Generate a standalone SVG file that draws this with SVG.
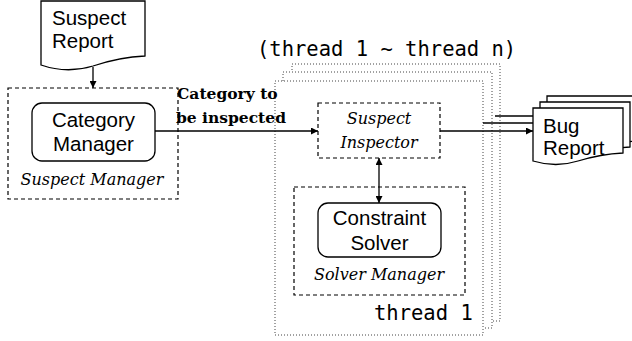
<svg xmlns="http://www.w3.org/2000/svg" width="632" height="341" viewBox="0 0 632 341">
<style>
.sans{font-family:"Liberation Sans",Arial,sans-serif;font-size:20.5px;fill:#000}
.ital{font-family:"DejaVu Serif",serif;font-style:italic;font-size:16px;fill:#000}
.bold{font-family:"DejaVu Serif",serif;font-weight:bold;font-size:15.5px;fill:#000}
.mono{font-family:"DejaVu Sans Mono",monospace;font-size:20.5px;fill:#000}
.solid{fill:#fff;stroke:#000;stroke-width:1.3}
.dash{fill:none;stroke:#000;stroke-width:1.2;stroke-dasharray:4 3}
.dot{fill:#fff;stroke:#444;stroke-width:1;stroke-dasharray:1 2}
.line{stroke:#000;stroke-width:1.3;fill:none}
</style>
<defs>
<marker id="arr" viewBox="0 0 10 10" refX="10" refY="5" markerWidth="8" markerHeight="7" markerUnits="userSpaceOnUse" orient="auto-start-reverse">
<path d="M0,0 L10,5 L0,10 Z" fill="#000"/>
</marker>
</defs>
<rect width="632" height="341" fill="#fff"/>

<g id="threads">
<rect class="dot" x="292" y="64" width="208" height="257"/>
<rect class="dot" x="283" y="72" width="209" height="256"/>
<rect class="dot" x="275" y="81" width="208" height="254"/>
<text class="mono" x="257" y="56">(thread 1 ~ thread n)</text>
<text class="mono" x="374" y="320">thread 1</text>
</g>

<g id="suspect-report">
<path class="solid" d="M41,1 H145 V56 Q120,57 93,66 Q67,74 41,65 Z"/>
<text class="sans" x="52" y="25">Suspect</text>
<text class="sans" x="52" y="48">Report</text>
</g>

<g id="suspect-manager">
<rect class="dash" x="8" y="88" width="170" height="111"/>
<text class="ital" x="92" y="185" text-anchor="middle">Suspect Manager</text>
</g>

<g id="category-manager">
<rect class="solid" x="32" y="103" width="123" height="58" rx="10"/>
<text class="sans" x="93.5" y="127" text-anchor="middle">Category</text>
<text class="sans" x="93.5" y="151" text-anchor="middle">Manager</text>
</g>

<g id="suspect-inspector">
<rect class="dash" x="318" y="103" width="122" height="55"/>
<text class="ital" x="379" y="124" text-anchor="middle">Suspect</text>
<text class="ital" x="379" y="148" text-anchor="middle">Inspector</text>
</g>

<g id="solver-manager">
<rect class="dash" x="294" y="187" width="171" height="108"/>
<text class="ital" x="379" y="280" text-anchor="middle">Solver Manager</text>
</g>

<g id="constraint-solver">
<rect class="solid" x="318" y="203" width="123" height="54" rx="10"/>
<text class="sans" x="379.5" y="225" text-anchor="middle">Constraint</text>
<text class="sans" x="379.5" y="250" text-anchor="middle">Solver</text>
</g>

<g id="connectors">
<line class="line" x1="93" y1="67" x2="93" y2="88" marker-end="url(#arr)"/>
<line class="line" x1="155" y1="131" x2="318" y2="131" marker-end="url(#arr)"/>
<line class="line" x1="379" y1="158" x2="379" y2="203" marker-start="url(#arr)" marker-end="url(#arr)"/>
<line class="line" x1="440" y1="131" x2="533" y2="131" marker-end="url(#arr)"/>
<line class="line" x1="483" y1="123" x2="533" y2="123"/>
<line class="line" x1="495" y1="116" x2="533" y2="116"/>
<text class="bold" x="177" y="99">Category to</text>
<text class="bold" x="176" y="123">be inspected</text>
</g>

<g id="bug-report">
<path class="solid" transform="translate(14,-12)" d="M533,108 H623 V153 Q601,154 578,161 Q556,168 533,161 Z"/>
<path class="solid" transform="translate(7,-6)" d="M533,108 H623 V153 Q601,154 578,161 Q556,168 533,161 Z"/>
<path class="solid" d="M533,108 H623 V153 Q601,154 578,161 Q556,168 533,161 Z"/>
<text class="sans" x="543" y="133">Bug</text>
<text class="sans" x="543" y="155">Report</text>
</g>
</svg>
